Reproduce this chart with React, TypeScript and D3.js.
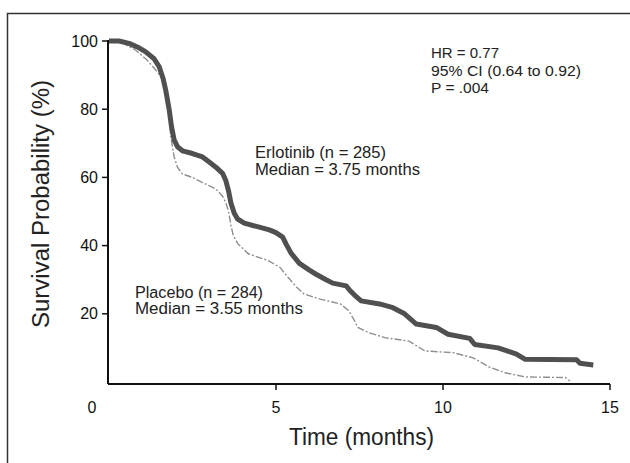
import React from "react";
import * as d3 from "d3";

const xTicks = [5, 10, 15];
const yTicks = [20, 40, 60, 80, 100];

const erlotinibT = [0, 0.3, 0.6, 0.9, 1.1, 1.35, 1.5, 1.62, 1.7, 1.8, 1.87, 1.95, 2.05, 2.2, 2.5, 2.8, 3.0, 3.2, 3.4, 3.5, 3.58, 3.65, 3.75, 3.85, 4.05, 4.5, 4.8, 5.0, 5.2, 5.3, 5.45, 5.7, 6.0, 6.2, 6.5, 6.7, 7.1, 7.2, 7.35, 7.55, 8.1, 8.5, 8.85, 9.2, 9.8, 10.15, 10.8, 10.95, 11.65, 12.2, 12.45, 14.0, 14.1, 14.5];
const erlotinibS = [100, 100, 99.3, 98, 96.8, 94.8, 92.5, 89, 85.5, 80, 75, 71, 69, 67.8, 67, 66, 64.5, 63, 61.2, 59, 56, 52.5, 49.5, 47.8, 46.6, 45.4, 44.6, 43.8, 42.5, 40.5, 37.8, 34.8, 32.8, 31.6, 30, 29, 28.2, 27, 25.5, 23.8, 22.9, 21.8, 20, 17, 16, 14, 12.8, 11, 10, 8.2, 6.7, 6.5, 5.5, 5.0];

const placeboT = [0, 0.3, 0.8, 1.14, 1.4, 1.6, 1.75, 1.85, 1.95, 2.05, 2.2, 2.5, 2.8, 3.2, 3.4, 3.5, 3.58, 3.65, 3.72, 3.86, 4.17, 4.77, 5.12, 5.36, 5.6, 5.84, 6.32, 6.93, 7.17, 7.35, 7.45, 7.77, 8.26, 8.98, 9.46, 10.3, 10.9, 11.38, 11.86, 12.46, 13.67, 13.8];
const placeboS = [100, 100, 97.3, 94.4, 91.5, 89, 82, 72, 66, 63, 61, 60, 58.5, 56.6, 54.5, 52.5, 50, 46, 43, 40.5, 37.6, 35.6, 33.6, 30.7, 28, 25.8, 24.3, 22.9, 21, 18, 16, 14.5, 13, 12, 9.1, 8.6, 7.1, 4.4, 2.7, 1.5, 1.3, 0.3];

const statsLines = ["HR = 0.77", "95% CI (0.64 to 0.92)", "P = .004"];
const statsWidths = [68, 150, 58];
const erlotinibLabel = ["Erlotinib (n = 285)", "Median = 3.75 months"];
const erlotinibWidths = [131, 165];
const placeboLabel = ["Placebo (n = 284)", "Median = 3.55 months"];
const placeboWidths = [128, 168];

const FONT = "'Liberation Sans Narrow', 'Arial Narrow', 'Liberation Sans', Arial, sans-serif";

export default function App() {
  const W = 630, H = 463;
  const x = d3.scaleLinear().domain([0, 15]).range([109, 610]);
  const y = d3.scaleLinear().domain([0, 100]).range([382, 41]);
  const line = d3.line<[number, number]>().x(d => x(d[0])).y(d => y(d[1])).curve(d3.curveLinear);
  const erl = erlotinibT.map((t, i) => [t, erlotinibS[i]] as [number, number]);
  const pla = placeboT.map((t, i) => [t, placeboS[i]] as [number, number]);
  const axisY = 384;
  const axisX = 108;
  return (
    <svg width={W} height={H} style={{ position: "absolute", left: 0, top: 0, background: "#fff" }}>
      <rect x={0} y={0} width={W} height={H} fill="#fff" />
      <rect x={7.5} y={13.5} width={660} height={480} fill="none" stroke="#333" strokeWidth={1.5} />
      <path d={line(pla) || ""} fill="none" stroke="#8f8f8f" strokeWidth={1.4} strokeDasharray="7,2,2,2" />
      <path d={line(erl) || ""} fill="none" stroke="#505050" strokeWidth={5} strokeLinejoin="round" />
      <line x1={axisX} y1={y(100) - 1} x2={axisX} y2={axisY} stroke="#111" strokeWidth={2} />
      <line x1={axisX} y1={axisY} x2={x(15)} y2={axisY} stroke="#111" strokeWidth={2} />
      {yTicks.map(v => (
        <g key={"y" + v}>
          <line x1={axisX - 6} x2={axisX} y1={y(v)} y2={y(v)} stroke="#111" strokeWidth={1.5} />
          <text x={axisX - 10} y={y(v)} dy="0.35em" textAnchor="end" fontFamily={FONT} fontSize={16} fill="#111">{v}</text>
        </g>
      ))}
      {xTicks.map(v => (
        <g key={"x" + v}>
          <line x1={x(v)} x2={x(v)} y1={axisY} y2={axisY + 6} stroke="#111" strokeWidth={1.5} />
          <text x={x(v)} y={407} dy="0.35em" textAnchor="middle" fontFamily={FONT} fontSize={16} fill="#111">{v}</text>
        </g>
      ))}
      <text x={92} y={407} dy="0.35em" textAnchor="middle" fontFamily={FONT} fontSize={16} fill="#111">0</text>
      <text x={289} y={437} dy="0.35em" fontFamily={FONT} fontSize={23} fill="#222" textLength={145} lengthAdjust="spacingAndGlyphs">Time (months)</text>
      <text transform="translate(41,204) rotate(-90)" x={-124} dy="0.35em" fontFamily={FONT} fontSize={23} fill="#222" textLength={248} lengthAdjust="spacingAndGlyphs">Survival Probability (%)</text>
      {statsLines.map((s, i) => (
        <text key={s} x={431} y={53 + i * 17.5} dy="0.35em" fontFamily={FONT} fontSize={15} fill="#222" textLength={statsWidths[i]} lengthAdjust="spacingAndGlyphs">{s}</text>
      ))}
      {erlotinibLabel.map((s, i) => (
        <text key={s} x={255} y={152 + i * 17} dy="0.35em" fontFamily={FONT} fontSize={16} fill="#222" textLength={erlotinibWidths[i]} lengthAdjust="spacingAndGlyphs">{s}</text>
      ))}
      {placeboLabel.map((s, i) => (
        <text key={s} x={135} y={292 + i * 16.5} dy="0.35em" fontFamily={FONT} fontSize={16} fill="#222" textLength={placeboWidths[i]} lengthAdjust="spacingAndGlyphs">{s}</text>
      ))}
    </svg>
  );
}
